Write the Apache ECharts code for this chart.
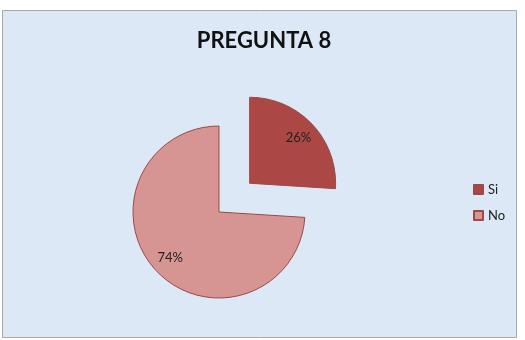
<!DOCTYPE html>
<html>
<head>
<meta charset="utf-8">
<script src="https://cdn.jsdelivr.net/npm/echarts@6/dist/echarts.min.js"></script>
<style>
  html, body { margin: 0; padding: 0; background: #fff; }
  #pregunta { width: 525px; height: 340px; }
</style>
</head>
<body>
<div id="pregunta"></div>
<script>
var categorias = ['Si', 'No'];
var porcentajes = [26, 74];
var colores = ['#ab4845', '#d69593'];

var myChart = echarts.init(document.getElementById('pregunta'));

var pieData = [];
var labelData = [];
for (var i = 0; i < categorias.length; i++) {
    pieData.push({
        name: categorias[i],
        value: porcentajes[i],
        selected: categorias[i] === 'Si',
        itemStyle: { color: colores[i] }
    });
    labelData.push({
        name: categorias[i],
        value: porcentajes[i],
        selected: categorias[i] === 'Si'
    });
}

var option = {
    animation: false,
    graphic: [{
        type: 'rect',
        z: -10,
        shape: { x: 2.5, y: 10.5, width: 514, height: 327 },
        style: { fill: '#dce8f6', stroke: '#a8a8a8', lineWidth: 1 }
    }],
    title: {
        text: 'PREGUNTA 8',
        left: 259,
        top: 25,
        textAlign: 'center',
        textStyle: { fontFamily: 'Lato', fontWeight: 'bold', fontSize: 22, color: '#111' }
    },
    legend: {
        orient: 'vertical',
        left: 468,
        top: 178,
        itemWidth: 9,
        itemHeight: 9,
        itemGap: 13,
        icon: 'rect',
        selectedMode: false,
        data: categorias,
        textStyle: { fontFamily: 'Lato', fontSize: 13, color: '#222' }
    },
    series: [
        {
            name: 'Pregunta 8',
            type: 'pie',
            center: [219, 212],
            radius: [0, 86],
            startAngle: 90,
            clockwise: true,
            selectedMode: 'single',
            selectedOffset: 42,
            silent: true,
            label: { show: false },
            labelLine: { show: false },
            itemStyle: { borderColor: '#9a4a47', borderWidth: 1 },
            emphasis: { disabled: true },
            data: pieData
        },
        {
            name: 'etiquetas',
            type: 'pie',
            center: [219, 212],
            radius: [42, 86],
            startAngle: 90,
            clockwise: true,
            selectedMode: 'single',
            selectedOffset: 42,
            silent: true,
            itemStyle: { color: 'rgba(0,0,0,0)', borderWidth: 0 },
            label: {
                show: true,
                position: 'inside',
                formatter: '{c}%',
                fontFamily: 'Lato',
                fontSize: 13,
                color: '#222'
            },
            labelLine: { show: false },
            emphasis: { disabled: true },
            data: labelData
        }
    ]
};

myChart.setOption(option);
</script>
</body>
</html>
